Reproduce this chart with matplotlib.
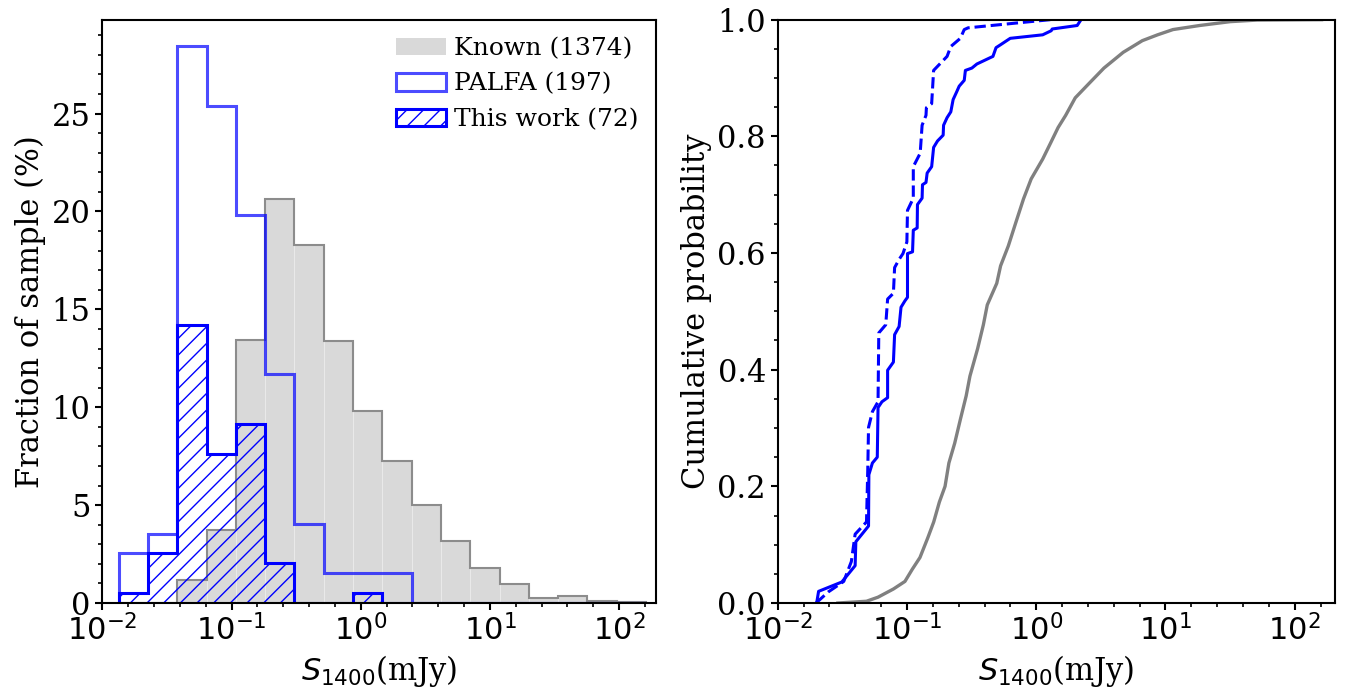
import numpy as np
import matplotlib
matplotlib.use("Agg")
import matplotlib.pyplot as plt
from matplotlib.patches import Patch
from matplotlib.ticker import FixedLocator, FixedFormatter, MultipleLocator, NullFormatter

plt.rcParams['font.family'] = ['DejaVu Serif']
plt.rcParams['mathtext.fontset'] = 'dejavusans'
plt.rcParams['axes.linewidth'] = 1.5
plt.rcParams['xtick.major.width'] = 1.5
plt.rcParams['ytick.major.width'] = 1.5
plt.rcParams['xtick.minor.width'] = 1.2
plt.rcParams['ytick.minor.width'] = 1.2
plt.rcParams['hatch.linewidth'] = 1.0

# ---------------- data ----------------
# histogram bins (log10 of S1400 in mJy)
bin_log_lo = -1.874
bin_log_hi = 2.208
n_bins = 18

# percentage per bin
known_pct = [0.0, 0.0, 1.15, 3.75, 13.45, 20.66, 18.31, 13.37, 9.80, 7.26,
             4.99, 3.17, 1.79, 0.98, 0.25, 0.35, 0.12, 0.07]
palfa_pct = [2.54, 3.55, 28.43, 25.38, 19.80, 11.68, 4.06, 1.52, 1.52, 1.52,
             0, 0, 0, 0, 0, 0, 0, 0]
thiswork_pct = [0.51, 2.54, 14.21, 7.61, 9.14, 2.03, 0, 0, 0.51, 0,
                0, 0, 0, 0, 0, 0, 0, 0]

labels = ['Known (1374)', 'PALFA (197)', 'This work (72)']

# cumulative distributions (S1400 in mJy, cumulative probability)
known_cdf_x = [0.0292, 0.0486, 0.0597, 0.0785, 0.0964, 0.110, 0.126, 0.145, 0.161,
               0.178, 0.197, 0.211, 0.234, 0.259, 0.287, 0.307, 0.352, 0.390,
               0.418, 0.495, 0.530, 0.608, 0.697, 0.798, 0.914, 1.122, 1.288,
               1.476, 1.690, 2.004, 2.547, 3.342, 4.710, 6.622, 8.690, 11.43,
               18.41, 31.77, 51.29, 161.4]
known_cdf_y = [0.0, 0.003, 0.010, 0.024, 0.037, 0.058, 0.078, 0.112, 0.139,
               0.173, 0.200, 0.240, 0.274, 0.315, 0.355, 0.389, 0.436, 0.477,
               0.511, 0.548, 0.578, 0.612, 0.653, 0.693, 0.727, 0.761, 0.788,
               0.815, 0.836, 0.866, 0.890, 0.917, 0.944, 0.964, 0.974, 0.983,
               0.990, 0.9966, 0.9993, 1.0]

palfa_cdf_x = [0.0200, 0.0207, 0.0313, 0.0397, 0.0402, 0.0504, 0.0507, 0.0540,
               0.0589, 0.0597, 0.0640, 0.0708, 0.0708, 0.0785, 0.0802, 0.0869,
               0.0899, 0.0964, 0.1009, 0.1009, 0.1104, 0.1119, 0.1199, 0.1205,
               0.1309, 0.1318, 0.1403, 0.1432, 0.1552, 0.1607, 0.1722, 0.1905,
               0.1919, 0.2042, 0.2183, 0.2275, 0.2421, 0.2535, 0.2773, 0.2831,
               0.3177, 0.3475, 0.4325, 0.4624, 0.4887, 0.5297, 0.6295, 1.122,
               1.306, 1.330, 2.075, 2.223]
palfa_cdf_y = [0.0, 0.020, 0.036, 0.064, 0.105, 0.132, 0.220, 0.240, 0.250,
               0.335, 0.345, 0.352, 0.399, 0.413, 0.460, 0.474, 0.507, 0.518,
               0.524, 0.599, 0.602, 0.639, 0.643, 0.683, 0.694, 0.717, 0.721,
               0.737, 0.748, 0.781, 0.792, 0.802, 0.819, 0.832, 0.842, 0.863,
               0.876, 0.886, 0.896, 0.913, 0.917, 0.924, 0.934, 0.937, 0.952,
               0.957, 0.968, 0.974, 0.981, 0.984, 0.990, 1.0]

tw_cdf_x = [0.0198, 0.0246, 0.0324, 0.0371, 0.0397, 0.0486, 0.0497, 0.0504,
            0.0540, 0.0597, 0.0605, 0.0685, 0.0708, 0.0785, 0.0802, 0.0869,
            0.0931, 0.0998, 0.1009, 0.1081, 0.1119, 0.1119, 0.1265, 0.1309,
            0.1403, 0.1413, 0.1552, 0.1607, 0.2042, 0.2183, 0.2588, 0.2773,
            0.2972, 1.288]
tw_cdf_y = [0.0, 0.019, 0.037, 0.071, 0.118, 0.139, 0.227, 0.301, 0.328,
            0.345, 0.463, 0.477, 0.521, 0.531, 0.575, 0.589, 0.599, 0.619,
            0.673, 0.687, 0.694, 0.748, 0.771, 0.819, 0.836, 0.849, 0.856,
            0.913, 0.937, 0.954, 0.968, 0.983, 0.986, 1.0]

xtick_exps = [-2, -1, 0, 1, 2]

# ---------------- figure ----------------
fig = plt.figure(figsize=(13.47, 6.92), dpi=100)
ax1 = fig.add_axes([0.0760, 0.1286, 0.4110, 0.8430])
ax2 = fig.add_axes([0.5774, 0.1286, 0.4137, 0.8430])

edges = 10 ** np.linspace(bin_log_lo, bin_log_hi, n_bins + 1)
centers = np.sqrt(edges[:-1] * edges[1:])
widths = np.diff(edges)

# Known: filled bars (faint light seams) + grey outline
ax1.bar(edges[:-1], known_pct, width=widths, align='edge',
        facecolor='#d9d9d9', edgecolor='#e9e9e9', linewidth=0.8)
ax1.hist(centers, bins=edges, weights=known_pct, histtype='step',
         color='#8c8c8c', linewidth=1.5)
# PALFA
ax1.hist(centers, bins=edges, weights=palfa_pct, histtype='step',
         color='blue', alpha=0.7, linewidth=2.2)
# This work
ax1.hist(centers, bins=edges, weights=thiswork_pct, histtype='step',
         color='blue', hatch='//', linewidth=2.2)

handles = [Patch(facecolor='#d9d9d9', edgecolor='none'),
           Patch(facecolor='none', edgecolor='blue', alpha=0.7, linewidth=2.2),
           Patch(facecolor='none', edgecolor='blue', hatch='//', linewidth=2.2)]
ax1.legend(handles, labels, loc='upper right', frameon=False, fontsize=18,
           handletextpad=0.3, borderaxespad=0.3)

ax1.set_xscale('log')
ax1.set_xlim(10 ** -2, 10 ** 2.285)
ax1.set_ylim(0, 29.8)
ax1.yaxis.set_major_locator(MultipleLocator(5))
ax1.yaxis.set_minor_locator(MultipleLocator(1))
ax1.set_ylabel('Fraction of sample (%)', fontsize=22)
ax1.set_xlabel(r'$S_{1400}$(mJy)', fontsize=22)

# CDF panel
ax2.plot(known_cdf_x, known_cdf_y, color='gray', linewidth=2.4)
ax2.plot(palfa_cdf_x, palfa_cdf_y, color='blue', linewidth=2.2)
ax2.plot(tw_cdf_x, tw_cdf_y, color='blue', linewidth=2.2, linestyle='--')
ax2.set_xscale('log')
ax2.set_xlim(10 ** -2, 10 ** 2.312)
ax2.set_ylim(0, 1)
ax2.yaxis.set_major_locator(MultipleLocator(0.2))
ax2.yaxis.set_minor_locator(MultipleLocator(0.05))
ax2.yaxis.set_major_formatter(matplotlib.ticker.FormatStrFormatter('%.1f'))
ax2.set_ylabel('Cumulative probability', fontsize=22)
ax2.set_xlabel(r'$S_{1400}$(mJy)', fontsize=22)

minor_exps = [e for e in np.arange(-2, 2.41, 0.2) if abs(e - round(e)) > 1e-6]
for ax in (ax1, ax2):
    ax.xaxis.set_major_locator(FixedLocator([10.0 ** e for e in xtick_exps]))
    ax.xaxis.set_major_formatter(FixedFormatter([r'$10^{%d}$' % e for e in xtick_exps]))
    ax.xaxis.set_minor_locator(FixedLocator([10.0 ** e for e in minor_exps]))
    ax.xaxis.set_minor_formatter(NullFormatter())
    ax.tick_params(axis='both', which='major', labelsize=22, length=5)
    ax.tick_params(axis='both', which='minor', length=3)

fig.savefig('out.png', dpi=100)
